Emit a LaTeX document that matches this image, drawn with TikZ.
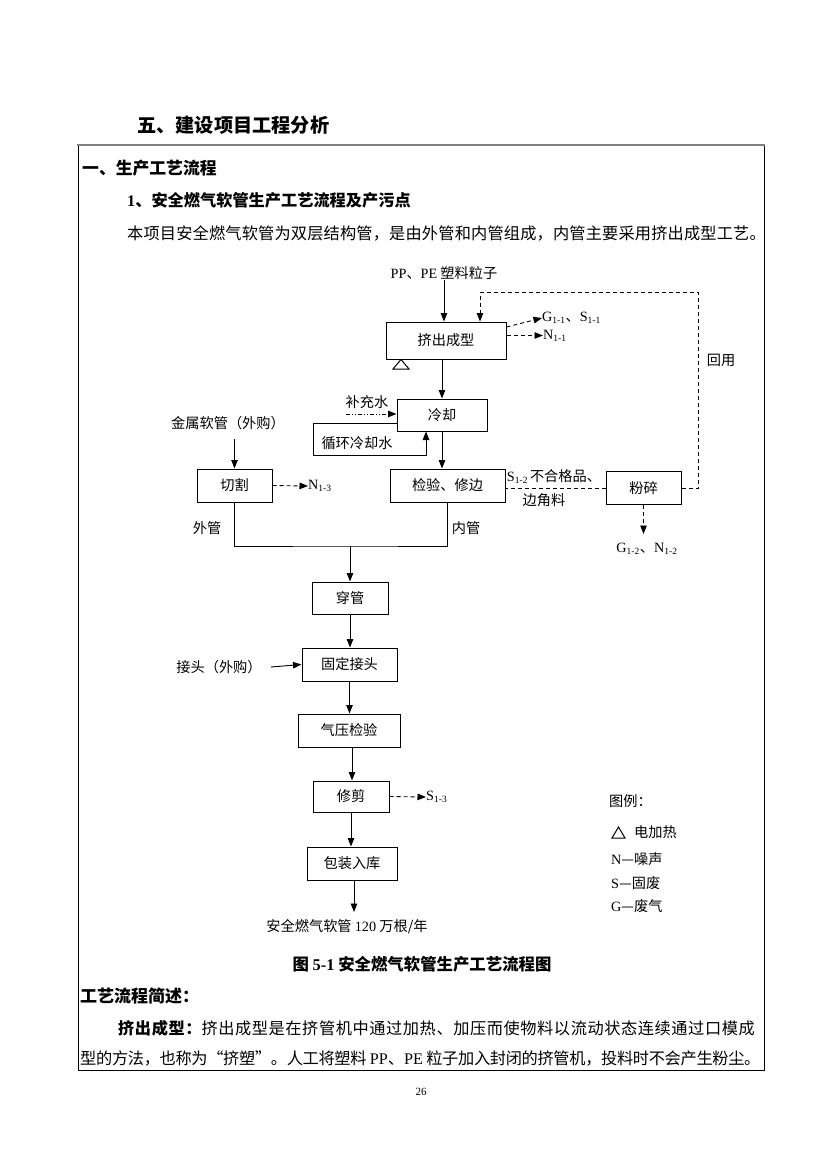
\documentclass[tikz,border=0pt]{standalone}
\usepackage{fontspec}
\setmainfont{Liberation Serif}
\newfontfamily\cjk{Noto Sans CJK SC}
\newfontfamily\lat{Liberation Serif}
\usetikzlibrary{arrows.meta}
\newcommand\dfont{\fontsize{14.2}{16}\selectfont\cjk}
\newcommand\bfont{\fontsize{16.2}{20}\selectfont\cjk}
\newcommand\sub[1]{\textsubscript{\fontsize{9.5}{10}\selectfont #1}}
\begin{document}
\begin{tikzpicture}[x=1pt,y=-1pt,
  box/.style={draw,line width=1pt,inner sep=0pt,font=\dfont},
  lbl/.style={inner sep=0pt,font=\dfont},
  arr/.style={line width=0.9pt,-{Triangle[length=8.5pt,width=6.5pt]}},
  darr/.style={arr,dash pattern=on 4pt off 3pt},
  dln/.style={line width=0.9pt,dash pattern=on 4pt off 3pt},
  ddarr/.style={arr,dash pattern=on 4pt off 2pt on 1pt off 2pt on 1pt off 2pt},
  ln/.style={line width=0.9pt},
  txt/.style={inner sep=0pt,anchor=west,font=\bfont}]
\useasboundingbox (0,0) rectangle (827,1169);
% frame
\draw[line width=0.8pt] (78,145) -- (78,1070) -- (764,1070) -- (764,145);
\draw[line width=2pt,gray] (77,145) -- (765,145);
% headings and text
\node[txt,font=\fontsize{19.2}{22}\selectfont\cjk\bfseries] (h0) at (137,125) {五、建设项目工程分析};
\node[txt,font=\fontsize{16.8}{20}\selectfont\cjk\bfseries] (h1) at (82,168) {一、生产工艺流程};
\node[txt,font=\bfont\bfseries] (h2) at (127,200) {{\lat\bfseries 1}、安全燃气软管生产工艺流程及产污点};
\node[txt,font=\bfont\addfontfeatures{LetterSpace=1.1}] (p0) at (127,233) {本项目安全燃气软管为双层结构管，是由外管和内管组成，内管主要采用挤出成型工艺。};
% boxes
\node[box,minimum width=120pt,minimum height=37pt] (jc) at (446,340.5) {挤出成型};
\node[box,minimum width=90pt,minimum height=32pt] (lq) at (442,415) {冷却};
\node[box,minimum width=115pt,minimum height=33pt] (jy) at (447.5,485.5) {检验、修边};
\node[box,minimum width=75pt,minimum height=33pt] (qg) at (234.5,485.5) {切割};
\node[box,minimum width=75pt,minimum height=33pt] (fs) at (643.5,488) {粉碎};
\node[box,minimum width=76pt,minimum height=32pt] (cg) at (350,598) {穿管};
\node[box,minimum width=95pt,minimum height=33pt] (gd) at (349.5,664.5) {固定接头};
\node[box,minimum width=102pt,minimum height=33pt] (qy) at (349,730.5) {气压检验};
\node[box,minimum width=76pt,minimum height=31pt] (xj) at (351,796.5) {修剪};
\node[box,minimum width=90pt,minimum height=33pt] (bz) at (352,863.5) {包装入库};
% labels
\node[lbl] (pp) at (444,273) {{\lat PP}、{\lat PE} 塑料粒子};
\node[lbl,anchor=west] (g11) at (542,318) {\lat G\sub{1-1}{\cjk 、}S\sub{1-1}};
\node[lbl,anchor=west] (n11) at (543,335.5) {\lat N\sub{1-1}};
\node[lbl] (hy) at (721,360) {回用};
\node[lbl] (bcs) at (367,402) {补充水};
\node[lbl] (xh) at (357,443) {循环冷却水};
\node[lbl] (js) at (228,423) {金属软管（外购）};
\node[lbl,anchor=west] (n13) at (308,486) {\lat N\sub{1-3}};
\node[lbl] (wg) at (207,528) {外管};
\node[lbl] (ng) at (466,528) {内管};
\node[lbl] (s12) at (554,476.5) {{\lat S\sub{1-2}}\hspace{2pt}不合格品、};
\node[lbl] (bjl) at (544,500) {边角料};
\node[lbl] (g12) at (647,549) {\lat G\sub{1-2}{\cjk 、}N\sub{1-2}};
\node[lbl] (jt) at (219,667) {接头（外购）};
\node[lbl,anchor=west] (s13) at (426,797) {\lat S\sub{1-3}};
\node[lbl] (cp) at (347,927) {安全燃气软管 {\lat 120} 万根/年};
% legend
\node[lbl,anchor=west] (tl) at (609,801) {图例：};
\node[lbl,anchor=west] (l1) at (634,832) {电加热};
\node[lbl,anchor=west] (l2) at (611,859) {{\lat N}—噪声};
\node[lbl,anchor=west] (l3) at (611,883) {{\lat S}—固废};
\node[lbl,anchor=west] (l4) at (611,906) {{\lat G}—废气};
\draw[line width=1pt] (612,838) -- (625,838) -- (618.5,827) -- cycle;
\draw[line width=1pt] (393,369) -- (409,369) -- (401,359.5) -- cycle;
% coordinates
\coordinate (fbtop) at (698,292);
\coordinate (bs) at (346,414);
\coordinate (lp1) at (313,455);
\coordinate (mg) at (350,546);
\coordinate (g12t) at (643.5,534);
\coordinate (end) at (354,912);
% connectors
\draw[arr] (pp.south) -- (pp.south |- jc.north);
\draw[darr] (fs.east) -| (fbtop) -| ([xshift=34pt]jc.north);
\draw[darr] ([yshift=13.5pt]jc.east) -- (g11.west);
\draw[darr] ([yshift=5pt]jc.east) -- (n11.west);
\draw[arr] (jc.south -| lq.north) -- (lq.north);
\draw[ddarr] (bs) -- (bs -| lq.west);
\draw[arr] ([yshift=-8pt]lq.west) -| (lp1) -| ([xshift=-16pt]lq.south);
\draw[arr] (lq.south) -- (lq.south |- jy.north);
\draw[arr] (js.south -| qg.north) ++(0,9) -- (qg.north);
\draw[darr] (qg.east) -- (n13.west);
\draw[dln] (fs.west) -- (fs.west -| jy.east);
\draw[darr] (fs.south) -- (g12t);
\draw[ln] (qg.south) |- (mg) -| (jy.south);
\draw[arr] (mg) -- (cg.north);
\draw[arr] (cg.south) -- (cg.south |- gd.north);
\draw[arr] ([xshift=9pt]jt.east) -- (gd.west);
\draw[arr] (gd.south) -- (gd.south |- qy.north);
\draw[arr] ([xshift=3pt]qy.south) -- ([xshift=3pt]qy.south |- xj.north);
\draw[arr] (xj.south) -- (xj.south |- bz.north);
\draw[arr] ([xshift=2pt]bz.south) -- (end);
\draw[darr] (xj.east) -- (s13.west);
% caption and text
\node[inner sep=0pt,font=\fontsize{16.4}{18}\selectfont\cjk\bfseries] (cap) at (422,964) {图 {\lat\bfseries 5-1} 安全燃气软管生产工艺流程图};
\node[txt,font=\fontsize{17}{20}\selectfont\cjk\bfseries] (h3) at (80,996) {工艺流程简述：};
\node[txt,font=\bfont\addfontfeatures{LetterSpace=3.6}] (p1) at (118,1028) {{\bfseries 挤出成型：}挤出成型是在挤管机中通过加热、加压而使物料以流动状态连续通过口模成};
\node[txt,font=\bfont\addfontfeatures{LetterSpace=-1.9}] (p2) at (80,1058) {型的方法，也称为“挤塑”。人工将塑料 {\lat PP}、{\lat PE} 粒子加入封闭的挤管机，投料时不会产生粉尘。};
\node[inner sep=0pt,font=\fontsize{11}{12}\selectfont\lat] (pg) at (421,1092) {26};
\end{tikzpicture}
\end{document}
